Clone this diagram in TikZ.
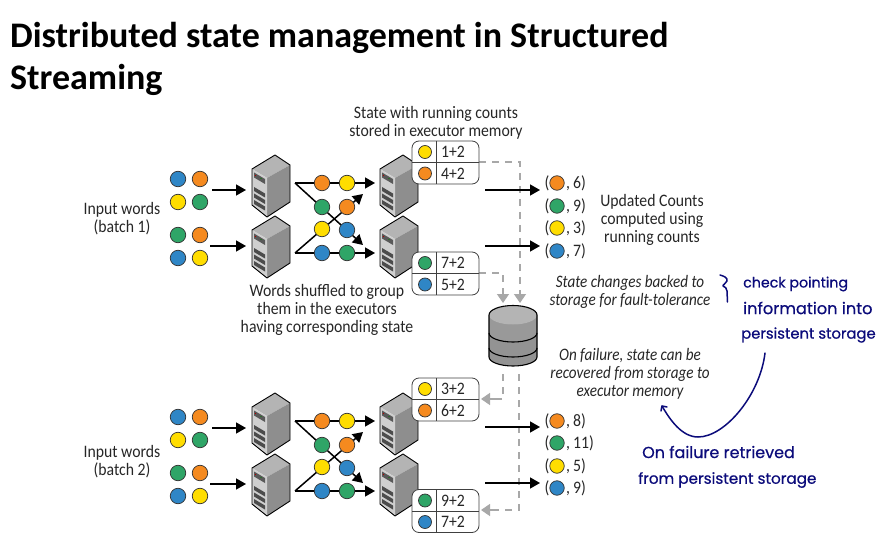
\documentclass[tikz,border=0pt]{standalone}
\usepackage{fontspec}
\setmainfont{Carlito}
\newfontfamily\narrow[FakeStretch=0.9]{Carlito}
\newfontfamily\slimfam[FakeStretch=0.865]{Carlito}
\newfontfamily\hand[FakeBold=0.6]{Poppins}
\usetikzlibrary{arrows.meta}
\definecolor{cB}{HTML}{2F86C6}
\definecolor{cO}{HTML}{F58A1F}
\definecolor{cY}{HTML}{FFDD00}
\definecolor{cG}{HTML}{2FA567}
\definecolor{navy}{HTML}{0B0B7A}
\definecolor{dashc}{HTML}{A8A8A8}
\definecolor{srvtop}{HTML}{B4B4B4}
\definecolor{srvside}{HTML}{8E8E8E}
\definecolor{srvfront}{HTML}{CFCFCF}
\tikzset{
  dot/.style={circle,draw=black!80,line width=.7pt,minimum size=15.5pt,inner sep=0pt},
  lab/.style={font=\narrow\fontsize{17.5}{18}\selectfont,align=center,text=black!85,inner sep=0pt},
  ilab/.style={font=\slimfam\itshape\fontsize{17.5}{18}\selectfont,align=center,text=black!85,inner sep=0pt},
  hw/.style={text=navy,inner sep=0pt,anchor=west},
  flow/.style={line width=1.5pt,-{Triangle[length=10pt,width=11pt]}},
  dsh/.style={dashc,line width=1.4pt,dash pattern=on 7pt off 6pt},
  dshend/.style={dsh,-{Triangle[length=9pt,width=12pt]}},
  tbl/.style={draw=black!75,line width=.8pt,fill=white,rounded corners=7pt},
}
\newcommand\hwf[1]{\hand\fontsize{#1}{18}\selectfont}
\newcommand\srv[3]{% name, x of apex, y of apex
 \begin{scope}[shift={(#2,#3)}]
  \fill[srvtop] (-23,14)--(0,0)--(15,10)--(-8,23)--cycle;
  \fill[srvside] (-8,23)--(15,10)--(15,47)--(-8,62)--cycle;
  \fill[srvfront] (-23,14)--(-8,23)--(-8,62)--(-23,50)--cycle;
  \fill[black!65] (-21,17.5)--(-10,24)--(-10,29)--(-21,22.5)--cycle;
  \fill[red!70!black] (-19.5,20.5) circle (.7);
  \fill[green!50!black] (-14,23.5) circle (.7);
  \foreach \yy in {32,38.5,45} \fill[black!70] (-21,\yy)--(-10,\yy+6.5)--(-10,\yy+10.5)--(-21,\yy+4)--cycle;
  \draw[black,line width=.9pt,line join=round] (-23,14)--(0,0)--(15,10)--(15,47)--(-8,62)--(-23,50)--cycle;
  \coordinate (#1) at (-4,31);
 \end{scope}}
\newcommand\tab[7]{% name, top y, c1, t1, c2, t2 , unused
 \draw[tbl] (412,#2) rectangle (479,#2+43);
 \draw[black!75,line width=.8pt] (412,#2+21.5)--(479,#2+21.5) (436,#2)--(436,#2+43);
 \node[dot,fill=#3,minimum size=13pt] (#1a) at (425,#2+11) {};
 \node[dot,fill=#5,minimum size=13pt] (#1b) at (425,#2+32.5) {};
 \node[lab] at (453,#2+11) {#4};
 \node[lab] at (453,#2+32.5) {#6};
 \coordinate (#1r) at (479,#2+21.5);
}
\newcommand\res[4]{% y, colour, number
 \node[dot,fill=#2,minimum size=14.5pt] at (557,#1) {};
 \node[lab] at (547,#1) {(};
 \node[lab,anchor=west] at (566,#1) {,\,#3)};
}
\newcommand\batch[2]{% prefix, dy
 \begin{scope}[yshift=-#2pt]
 \foreach \x/\y/\c in {178/179/cB,200/179/cO,178/202/cY,200/202/cG,178/235/cG,200/235/cO,178/258/cB,200/258/cY}
   \node[dot,fill=\c] at (\x,\y) {};
 \srv{#1s1}{275}{155}
 \srv{#1s2}{275}{216}
 \srv{#1s3}{403}{155}
 \srv{#1s4}{403}{216}
 \coordinate (#1ia) at (212,190); \coordinate (#1ib) at (210,246);
 \coordinate (#1a) at (246,190); \coordinate (#1b) at (246,246);
 \draw[flow] (#1ia)--(#1a);
 \draw[flow] (#1ib)--(#1b);
 \coordinate (#1p) at (295,183); \coordinate (#1q) at (295,253);
 \coordinate (#1e) at (375,183); \coordinate (#1f) at (375,253);
 \coordinate (#1g) at (363,245); \coordinate (#1h) at (363,194);
 \draw[flow] (#1p)--(#1e);
 \draw[flow] (#1q)--(#1f);
 \draw[flow] (#1p)--(#1g);
 \draw[flow] (#1q)--(#1h);
 \foreach \x/\y/\c in {322/183/cO,347/183/cY,322/207/cG,347/207/cO,322/229/cY,347/230/cB,322/253/cB,347/253/cG}
   \node[dot,fill=\c] at (\x,\y) {};
 \end{scope}}
\begin{document}
\begin{tikzpicture}[x=1pt,y=-1pt]
\useasboundingbox (0,0) rectangle (886,548);
\node[anchor=west,inner sep=0pt,font=\bfseries\fontsize{36}{38}\selectfont] (t1) at (10,38) {Distributed state management in Structured};
\node[anchor=west,inner sep=0pt,font=\bfseries\fontsize{36}{38}\selectfont] (t2) at (10,80) {Streaming};
\batch{u}{0}
\batch{d}{238}
% dashes (behind)
\coordinate (j1) at (520,162); \coordinate (j2) at (503,273);
\coordinate (sa) at (503,303); \coordinate (sb) at (520,303);
\coordinate (l1) at (503,374); \coordinate (l2) at (503,399); \coordinate (l3) at (481,399);
\coordinate (r1) at (519,374); \coordinate (r2) at (519,510); \coordinate (r3) at (481,510);
\coordinate (t1r) at (479,162); \coordinate (t2r) at (479,273);
\draw[dsh] (t1r)--(j1)--(520,294);
\draw[dsh] (t2r)--(j2)--(503,294);
\draw[dshend] (520,290)--(sb);
\draw[dshend] (503,290)--(sa);
\draw[dsh] (l1)--(l2)--(492,399);
\draw[dshend] (495,399)--(l3);
\draw[dsh] (r1)--(r2)--(492,510);
\draw[dshend] (495,510)--(r3);
% output arrows
\foreach \a/\y in {oa/190,ob/246,oc/427,od/483}{
 \coordinate (\a0) at (485,\y); \coordinate (\a1) at (540,\y);
 \draw[flow] (\a0)--(\a1);
}
\tab{ta}{141}{cY}{1+2}{cO}{4+2}{}
\tab{tb}{252}{cG}{7+2}{cB}{5+2}{}
\tab{tc}{378}{cY}{3+2}{cO}{6+2}{}
\tab{td}{489.5}{cG}{9+2}{cB}{7+2}{}
\res{183}{cO}{6}{}\res{206}{cG}{9}{}\res{228}{cY}{3}{}\res{251}{cB}{7}{}
\res{421}{cO}{8}{}\res{443}{cG}{11}{}\res{466}{cY}{5}{}\res{488}{cB}{9}{}
% storage
\begin{scope}[shift={(513,0)}]
 \fill[gray!85] (-24,315) -- (-24,357) arc[start angle=180,end angle=0,x radius=24,y radius=9] -- (24,315) -- cycle;
 \fill[srvtop!85!black] (-24,315) arc[start angle=180,end angle=0,x radius=24,y radius=9.5] -- (24,333) arc[start angle=0,end angle=180,x radius=24,y radius=9] -- cycle;
 \fill[srvtop] (-24,315) arc[start angle=180,end angle=0,x radius=24,y radius=9.5] arc[start angle=0,end angle=-180,x radius=24,y radius=9.5] -- cycle;
 \draw[black,line width=1.1pt] (-24,315) -- (-24,357) arc[start angle=180,end angle=0,x radius=24,y radius=9] -- (24,315) arc[start angle=0,end angle=-180,x radius=24,y radius=9.5];
 \draw[black,line width=1.1pt] (-24,333) arc[start angle=180,end angle=0,x radius=24,y radius=9];
 \draw[black,line width=1.1pt] (-24,348) arc[start angle=180,end angle=0,x radius=24,y radius=9];
 \coordinate (db) at (0,335);
\end{scope}
% labels
\node[lab] (l0) at (122,219) {Input words\\(batch 1)};
\node[lab] (l00) at (122,462) {Input words\\(batch 2)};
\node[lab] (l3a) at (436,123) {State with running counts\\stored in executor memory};
\node[lab] (l4) at (327,310) {Words shuffled to group\\them in the executors\\having corresponding state};
\node[lab] (l5) at (652,220) {Updated Counts\\computed using\\running counts};
\node[ilab] (l6) at (630,292) {State changes backed to\\storage for fault-tolerance};
\node[ilab] (l7) at (630,374) {On failure, state can be\\recovered from storage to\\executor memory};
% handwriting
\node[hw,font=\hwf{14.2}] (h1) at (743,284) {check pointing};
\node[hw,font=\hwf{16.2}] (h2) at (743,308) {information into};
\node[hw,font=\hwf{14.8}] (h3) at (741,335) {persistent storage};
\node[hw,font=\hwf{16}] (h4) at (642,452) {On failure retrieved};
\node[hw,font=\hwf{15.2}] (h5) at (638,480) {from persistent storage};
\draw[navy,line width=1.5pt,line cap=round,line join=round] (720,275) .. controls (724,276) and (728,278) .. (727,281) .. controls (726,284) and (722,285) .. (723,286) .. controls (725,287) and (727,288) .. (727,291) -- (727.5,302);
\coordinate (c0) at (765,353); \coordinate (c1) at (662,406);
\draw[navy,line width=1.5pt,line cap=round,line join=round] (c0) .. controls (760,395) and (725,437) .. (698,437) .. controls (682,437) and (670,420) .. (c1);
\draw[navy,line width=1.5pt,line cap=round,line join=round] (661,411)--(c1)--(667,407);
\end{tikzpicture}
\end{document}
